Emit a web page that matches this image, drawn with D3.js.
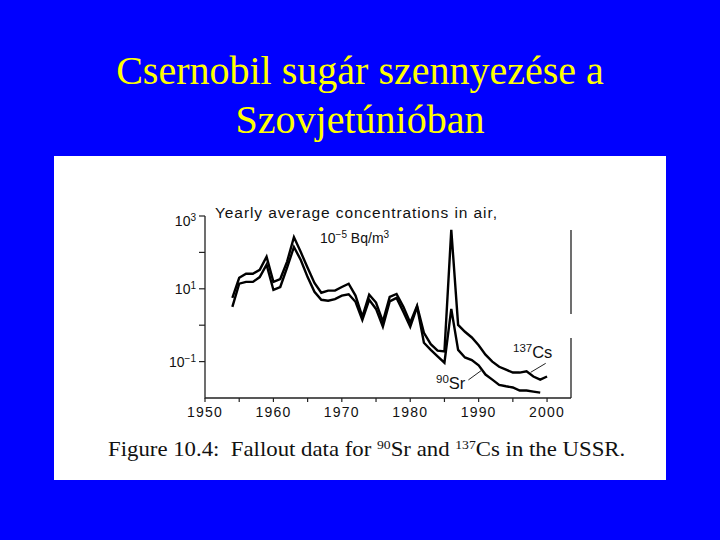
<!DOCTYPE html>
<html>
<head>
<meta charset="utf-8">
<script src="https://cdn.jsdelivr.net/npm/d3@7"></script>
<style>
  body { margin: 0; background: #0000ff; }
  svg { display: block; }
</style>
</head>
<body>
<div class="container"></div>
<script>
// yearly average concentrations in air, 10^-5 Bq/m3
const years = [1954, 1955, 1956, 1957, 1958, 1959, 1960, 1961, 1962, 1963,
    1964, 1965, 1966, 1967, 1968, 1969, 1970, 1971, 1972, 1973,
    1974, 1975, 1976, 1977, 1978, 1979, 1980, 1981, 1982, 1983,
    1984, 1985, 1986, 1987, 1988, 1989, 1990, 1991, 1992, 1993,
    1994, 1995, 1996, 1997, 1998, 1999, 2000];

const cs137 = [5.6, 20, 26, 26, 33, 76, 15.5, 18.6, 56, 263,
    102, 38, 14.5, 7.8, 8.9, 8.9, 11.2, 13.8, 6.5, 1.7,
    6.9, 4.2, 1.26, 6.0, 7.2, 3.2, 1.17, 3.4, 0.62, 0.30,
    0.20, 0.19, 417, 1.02, 0.66, 0.46, 0.28, 0.155, 0.10, 0.072,
    0.060, 0.050, 0.050, 0.054, 0.039, 0.032, 0.039];

const sr90 = [3.2, 13.8, 15.5, 15.5, 21, 46, 9.3, 11.2, 38, 141,
    62, 21, 8.3, 5.0, 4.7, 5.2, 6.5, 7.1, 4.4, 1.4,
    5.0, 2.8, 0.91, 4.5, 5.6, 2.3, 0.91, 3.2, 0.33, 0.21,
    0.14, 0.093, 2.8, 0.21, 0.13, 0.11, 0.079, 0.044, 0.032, 0.023,
    0.021, 0.0195, 0.016, 0.016, 0.015, 0.014];

const xTicks = [1950, 1960, 1970, 1980, 1990, 2000];
const xMinor = [1955, 1965, 1975, 1985, 1995];
const yTicks = [1000, 100, 10, 1, 0.1];
const yLabels = [{v: 1000, exp: '3'}, {v: 10, exp: '1'}, {v: 0.1, exp: '\u22121'}];

let width = 720;
let height = 540;

const svg = d3.select('.container')
    .append('svg')
    .attr('width', width)
    .attr('height', height);

//Slide title
const title = svg.append('text')
    .attr('text-anchor', 'middle')
    .attr('fill', '#ffff00')
    .style('font-family', '"Liberation Serif", "Times New Roman", serif')
    .style('font-size', '40px');
title.append('tspan').attr('x', 360).attr('y', 84).text('Csernobil sugár szennyezése a');
title.append('tspan').attr('x', 360).attr('y', 133).text('Szovjetúnióban');

//White figure panel
svg.append('rect')
    .attr('x', 54).attr('y', 156)
    .attr('width', 612).attr('height', 324)
    .attr('fill', '#ffffff');

let x = d3.scaleLinear().domain([1950, 2003.5]).range([205, 571]);
let y = d3.scaleLog().domain([0.01, 1000]).range([398, 216]);

const g = svg.append('g')
    .style('font-family', '"Liberation Sans", Arial, sans-serif');

//Axes
g.append('path')
    .attr('d', 'M' + x(1950) + ',' + y(1000) + 'V' + y(0.01) + 'H' + x(2003.5))
    .attr('fill', 'none')
    .attr('stroke', '#222')
    .attr('stroke-width', 1.3);

// right frame line (broken in the original scan)
g.append('path')
    .attr('d', 'M' + x(2003.5) + ',230V314M' + x(2003.5) + ',338V' + y(0.01))
    .attr('fill', 'none')
    .attr('stroke', '#222')
    .attr('stroke-width', 1.3);

g.selectAll('.ytick')
    .data(yTicks)
    .enter()
    .append('line')
    .attr('class', 'ytick')
    .attr('x1', x(1950) - 6).attr('x2', x(1950))
    .attr('y1', d => y(d)).attr('y2', d => y(d))
    .attr('stroke', '#222')
    .attr('stroke-width', 1.2);

g.selectAll('.xtick')
    .data(xTicks.concat(xMinor))
    .enter()
    .append('line')
    .attr('class', 'xtick')
    .attr('x1', d => x(d)).attr('x2', d => x(d))
    .attr('y1', y(0.01)).attr('y2', y(0.01) + 4)
    .attr('stroke', '#222')
    .attr('stroke-width', 1.2);

g.selectAll('.xlabel')
    .data(xTicks)
    .enter()
    .append('text')
    .attr('class', 'xlabel')
    .attr('x', d => x(d))
    .attr('y', 417)
    .attr('text-anchor', 'middle')
    .style('font-size', '14px')
    .style('letter-spacing', '1.2px')
    .attr('fill', '#111')
    .text(d => d);

let ylab = g.selectAll('.ylabel')
    .data(yLabels)
    .enter()
    .append('text')
    .attr('class', 'ylabel')
    .attr('x', 196)
    .attr('y', d => y(d.v) + (d.v === 1000 ? 10 : 5))
    .attr('text-anchor', 'end')
    .attr('fill', '#111')
    .style('font-size', '14px');
ylab.append('tspan').text('10');
ylab.append('tspan').attr('dy', -5).style('font-size', '10px').text(d => d.exp);

//Chart heading
g.append('text')
    .attr('x', 215).attr('y', 218)
    .attr('fill', '#111')
    .style('font-size', '15.5px')
    .attr('textLength', 282)
    .attr('lengthAdjust', 'spacing')
    .text('Yearly average concentrations in air,');

let unit = g.append('text')
    .attr('x', 320).attr('y', 243)
    .attr('fill', '#111')
    .style('font-size', '14px');
unit.append('tspan').text('10');
unit.append('tspan').attr('dy', -5).style('font-size', '10px').text('\u22125');
unit.append('tspan').attr('dy', 5).text(' Bq/m');
unit.append('tspan').attr('dy', -5).style('font-size', '10px').text('3');

//Lines
let line = d3.line()
    .x(d => x(d[0]))
    .y(d => y(d[1]));

g.append('path')
    .datum(years.map((yr, i) => [yr, cs137[i]]))
    .attr('d', line)
    .attr('fill', 'none')
    .attr('stroke', '#000')
    .attr('stroke-width', 2.4)
    .attr('stroke-linejoin', 'miter');

g.append('path')
    .datum(years.slice(0, sr90.length).map((yr, i) => [yr, sr90[i]]))
    .attr('d', line)
    .attr('fill', 'none')
    .attr('stroke', '#000')
    .attr('stroke-width', 2.4)
    .attr('stroke-linejoin', 'miter');

//Series labels with leaders
let csIdx = years.indexOf(1997);
g.append('line')
    .attr('x1', x(1997.6)).attr('y1', y(cs137[csIdx]) + 1)
    .attr('x2', x(1999.8)).attr('y2', y(cs137[csIdx]) - 8)
    .attr('stroke', '#222').attr('stroke-width', 1);

let srI = years.indexOf(1990);
let srMid = Math.sqrt(sr90[srI] * sr90[srI + 1]);
g.append('line')
    .attr('x1', x(1990.5)).attr('y1', y(srMid))
    .attr('x2', x(1988.5)).attr('y2', y(srMid) + 10)
    .attr('stroke', '#222').attr('stroke-width', 1);

let csLab = g.append('text')
    .attr('x', 513).attr('y', 358)
    .attr('fill', '#111')
    .style('font-size', '16.5px');
csLab.append('tspan').attr('dy', -6).style('font-size', '11.5px').text('137');
csLab.append('tspan').attr('dy', 6).text('Cs');

let srLab = g.append('text')
    .attr('x', 436).attr('y', 389)
    .attr('fill', '#111')
    .style('font-size', '16.5px');
srLab.append('tspan').attr('dy', -6).style('font-size', '11.5px').text('90');
srLab.append('tspan').attr('dy', 6).text('Sr');

//Caption (scan is horizontally stretched)
let cap = svg.append('text')
    .attr('transform', 'translate(108,456) scale(1.14,1)')
    .attr('fill', '#111')
    .style('font-family', '"Liberation Serif", "Times New Roman", serif')
    .style('font-size', '20px');
cap.append('tspan').text('Figure 10.4:\u00a0 Fallout data for ');
cap.append('tspan').attr('dy', -7).style('font-size', '12px').text('90');
cap.append('tspan').attr('dy', 7).text('Sr and ');
cap.append('tspan').attr('dy', -7).style('font-size', '12px').text('137');
cap.append('tspan').attr('dy', 7).text('Cs in the USSR.');
</script>
</body>
</html>
